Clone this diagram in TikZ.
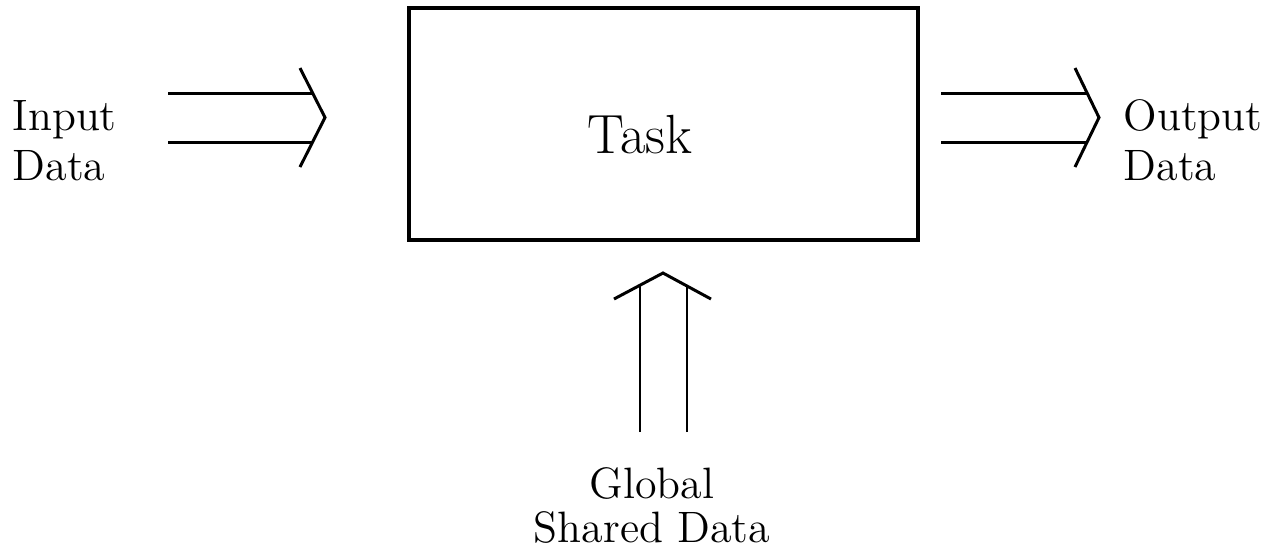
\documentclass[tikz,border=0pt]{standalone}
\usepackage{tikz}
\usetikzlibrary{calc}

\tikzset{flow/.style={black, line width=0.85pt}}
\tikzset{lbl/.style={inner sep=0, font=\fontsize{12.5}{14.2}\selectfont}}

\begin{document}
\begin{tikzpicture} [x=0.01cm, y=-0.01cm]
\useasboundingbox (0,0) rectangle (1275,550);
% task box
\node[draw, line width=0.95pt, minimum width=509*0.01cm, minimum height=232*0.01cm, inner sep=0] (task) at (663.5,124) {};
\node[inner sep=0, anchor=base, font=\fontsize{15.7}{18}\selectfont] (tasktext) at (640,153) {Task};

% labels
\node[lbl, anchor=north west, align=left] (input) at (12,100) {Input\\Data};
\node[lbl, anchor=north west, align=left] (output) at (1123,99) {Output\\Data};
\node[lbl, anchor=north, align=center, font=\fontsize{12.5}{12.5}\selectfont] (global) at (652,466.5) {Global\\Shared Data};

% input arrow
\coordinate (intip) at (325,117.5);
\draw[flow] (168,93) -- (313,93);
\draw[flow] (168,142) -- (313,142);
\draw[flow] (intip) ++(-25,-49.5) -- (intip) -- ++(-25,49.5);

% output arrow
\coordinate (outtip) at (1099,117.5);
\draw[flow] (941,93) -- (1087,93);
\draw[flow] (941,142) -- (1087,142);
\draw[flow] (outtip) ++(-24,-49.5) -- (outtip) -- ++(-24,49.5);

% global data arrow
\coordinate (uptip) at (663,273);
\draw[flow] (640,432) -- (640,285);
\draw[flow] (687,432) -- (687,286);
\draw[flow] (uptip) ++(-49,26) -- (uptip) -- ++(48,26);
\end{tikzpicture}
\end{document}
